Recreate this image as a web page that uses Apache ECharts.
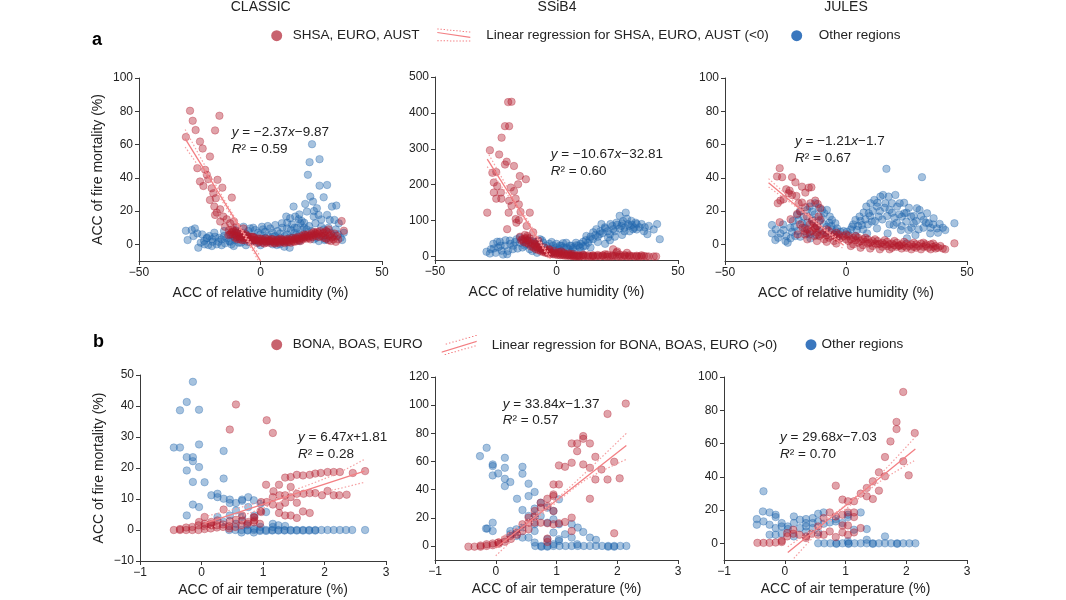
<!DOCTYPE html>
<html>
<head>
<meta charset="utf-8">
<script src="https://cdn.jsdelivr.net/npm/echarts@6/dist/echarts.min.js"></script>
<style>
  html, body { margin: 0; padding: 0; background: #fff; }
  #chart { width: 1066px; height: 600px; }
</style>
</head>
<body>
<div id="chart"></div>
<script>
// panel titles and regression text
const models = ['CLASSIC', 'SSiB4', 'JULES'];
const eqSlope = ['−2.37', '−10.67', '−1.21', '6.47', '33.84', '29.68'];
const eqIntercept = ['−9.87', '−32.81', '−1.7', '+1.81', '−1.37', '−7.03'];
const eqR2 = ['0.59', '0.60', '0.67', '0.28', '0.57', '0.70'];

// tick labels
const yTicksA = [0, 20, 40, 60, 80, 100];
const yTicksA2 = [0, 100, 200, 300, 400, 500];
const yTicksB2 = [0, 20, 40, 60, 80, 100, 120];
const yTicksB3 = [0, 20, 40, 60, 80, 100];

// ---- row a: ACC of relative humidity vs ACC of fire mortality ----
const a1Red = [[-29.0,80.3],[-27.9,74.3],[-26.7,68.7],[-30.7,64.5],[-24.9,61.8],[-23.8,57.6],[-16.9,77.3],[-18.7,68.5],
  [-20.8,52.8],[-26.0,45.8],[-22.8,44.8],[-22.1,41.8],[-21.5,39.2],[-24.9,37.8],[-17.7,38.8],[-15.7,34.1],[-23.5,35.1],
  [-20.1,33.7],[-19.4,30.7],[-20.8,26.7],[-18.4,27.7],[-11.8,28.1],[-19.0,22.7],[-18.0,19.1],[-16.6,21.1],[-18.7,17.7],
  [-15.3,16.7],[-13.9,15.1],[-16.6,13.7],[-12.5,12.7],[-10.9,13.7],[-14.6,10.6],[-9.8,10.6],[-7.0,9.6],[-11.8,7.6],
  [-8.4,6.6],[-5.6,5.0],[-3.6,4.6],[-9.8,4.6],[-2.2,2.6],[-13.2,5.6],
  [-12,7],[-11,6],[-10,5.5],[-9,5],[-8,4.5],[-7,4],[-6,3.5],[-5,3.2],[-4,3],[-3,2.8],[-2,2.5],[-1,2.3],[0,2.2],[1,2],
  [2,2],[3,1.8],[4,1.8],[5,1.8],[6,1.8],[7,1.9],[8,2],[9,2],[10,2.1],[11,2.3],[12,2.5],[13,2.7],[14,3],[15,3.2],[16,3.5],
  [17,3.8],[18,4.1],[19,4.5],[20,5],[21,5.3],[22,5.8],[23,6.2],[24,6.5],[25,5],[26,4],[27,3.5],[28,2.5],[30,3],[31,1.5],
  [33.4,14],[34.3,8.2],[-10,8],[-8,7],[-6,6],[-3,4.5],[0,3.5],[3,3],[6,0.5],[10,0.8],[14,1.5],[18,6],[22,7.5],[26,7],
  [29,6],[32,3],[-11.5,9],[-9.5,3],[-7.5,2.5],[-4.5,1.5],[-1.5,0.8],[1.5,0.5],[4.5,3.2],[8.5,3.4],[12.5,1],[16.5,2],
  [20.5,3],[24.5,8],[27.5,7.5],[29.5,4.2],[31.5,5]];
const a1RedBand = [[-13,8.5],[-12.5,6],[-11,8],[-10.5,4],[-9,7],[-8.5,3],[-7,6],[-6.5,2.5],[-5.5,5],[-4,4.5],[-3.5,1.8],
  [-2.5,4],[-1,3.5],[-0.5,1.5],[0.5,3],[1,1],[2,3.5],[2.5,1],[3.5,2.5],[4,0.8],[5,3],[5.5,1],[6.5,2.8],[7,1],[7.5,3],[8,1],
  [9,2.8],[9.5,1.2],[10.5,3],[11,1.2],[11.5,3.2],[12,1.5],[13,3.8],[13.5,1.8],[14.5,4],[15,2],[15.5,4.5],[16,2.5],[17,5],
  [17.5,3],[18.5,5.5],[19,3.5],[19.5,6],[20,4],[21,6.5],[21.5,4.5],[22.5,7],[23,5],[23.5,7.5],[24,4.5],[25.5,6.5],
  [26.5,5.5],[27,8],[28.5,5],[29,2],[30.5,6.5],[28,9]];
const a1Blue = [[-30.7,8.2],[-30,2.6],[-28.3,8.6],[-27,9.6],[-26,6.6],[-27.6,5],[-24.6,1],[-23.2,2],[-22.1,3.6],[-25.6,-2],
  [-21.5,-0.4],[-19.7,1.6],[-18.7,4.6],[-17.3,1.6],[-16,3],[-14.6,0.6],[-13.9,3.6],[-12.5,1.6],[-11.4,5],[-10.5,2.6],
  [-9.8,7],[-8.4,3.6],[-7,10.6],[-6.3,6.6],[-5.6,1.6],[-4.3,9.6],[-2.9,4.6],[-2.2,8.6],[-0.8,1],[0.6,10.6],[1.9,7.6],
  [2.6,1.6],[4,9.6],[5.1,4.6],[6.1,11.6],[6.7,-0.4],[8.1,6.6],[8.8,12.7],[9.8,-1.4],[10.6,16.7],[10.9,9.6],[12,-2],
  [12.2,15.7],[12.5,8.6],[13.6,22.7],[14.3,16.7],[14.7,5.6],[15.7,15.1],[16.4,12.7],[17.1,8.6],[17.7,4.6],[18.4,24.3],
  [19.1,19.7],[19.5,41.8],[20.2,49.4],[21.2,60.2],[20.5,28.7],[21.6,25.7],[21.9,16.7],[22.6,12.7],[24.3,51.2],[24.3,35.3],
  [23.2,21.7],[23.9,17.7],[26,28.3],[27.4,35.7],[27.4,17.7],[28.5,14.7],[29.4,22.7],[31.2,23.3],[30.4,14.7],[32.2,12.7],
  [26.4,2.6],[25,10.6],[34.3,7],[33.6,2.6],[-20,3],[-15,5],[-10,4],[-5,5],[0,6],[3,5],[7,3],[10,2],[13,4],[16,2],[-22,4],
  [-18,0],[-12,0],[-8,1],[-3,2],[1,3],[5,0],[8,4],[11,6],[14,10],[16,18],[18,10],[19,5],[22,3],[24,2],[26,5]];
const a1BlueBand = [[-24,6],[-23,0],[-21,5],[-20,-1],[-19,7],[-17,4],[-16,-0.5],[-15,8],[-13,2],[-12,6],[-11,-1],[-10,9],
  [-9,1],[-7,5],[-6,-0.5],[-5,8],[-4,2],[-3,10],[-1,7],[0,-0.5],[1,9],[2,4],[3,11],[4,2],[5,7],[6,5],[7,8],[8,0],[9,10],
  [10,5],[11,13],[12,4],[13,12],[14,7],[15,10],[16,6],[17,14],[18,13],[19,9],[20,11],[21,8],[22,20],[23,4],[25,15],[26,9],
  [27,3],[28,10],[29,7],[30,5],[31,9],[32,6],[33,4]];
const a1Fit = [[-31, 63.6], [0, -9.9]];
const a1CiUp = [[-31, 69], [-20, 39.8], [-12, 19.6], [-5, 3.2], [-0.5, -6.2]];
const a1CiLo = [[-31, 58.5], [-20, 35.4], [-12, 17.2], [-5, 0.6], [-0.8, -10]];

const a2Red = [[-19.9,430],[-18.5,431],[-21.2,363],[-19.5,363],[-22.6,331],[-27.4,296],[-23.6,284],[-26.4,233],[-24.8,235],
  [-20.5,264],[-21.2,256],[-17.5,252],[-15.1,224],[-12.6,215],[-15.8,201],[-25.8,206],[-24.4,196],[-25.8,178],[-22.9,178],
  [-24.8,161],[-22.7,161],[-18.8,192],[-17.5,182],[-16.8,161],[-19.5,155],[-18.5,141],[-15.5,145],[-14.8,124],[-11,122],
  [-19.7,122],[-16.8,104],[-28.5,122],[-16.5,94],[-15.5,101],[-20.3,76],[-12.3,85],[-9.6,67],[-12,57],[-7.5,44],[-8.9,34],
  [-6.8,25],[-4.1,16],[23.3,20],[24.7,11],
  [-15,55],[-13,50],[-12,45],[-11,40],[-10,35],[-9,30],[-8,25],[-7,22],[-6,18],[-5,15],[-4,13],[-3,12],[-2,11],[-1,10],
  [0,9],[1,8],[2,7],[3,6],[4,5],[5,4],[6,3],[7,2],[8,2],[9,1],[10,1],[12,1],[14,0],[16,0],[18,0],[20,0],[22,0],[24,1],
  [26,0],[28,1],[30,0],[32,0],[34,0],[37,0],[40,0],[41,0],[29,10],[25,14],[20,6],[15,3],[11,5],[6,7],[2,14],[-3,18],
  [-8,38],[-14,48],[-12,52]];
const a2RedBand = [[-14.5,45],[-13.5,40],[-12.5,38],[-11.5,35],[-10.5,28],[-9.5,25],[-8.5,20],[-7.5,18],[-6.5,15],[-5.5,12],
  [-4.5,10],[-3.5,8],[-2.5,7],[-1.5,6],[-0.5,5],[0.5,4],[1.5,3],[2.5,3],[3.5,2],[4.5,2],[5.5,1],[6.5,1],[7.5,0],[8.5,0],
  [9.5,0],[11,0],[13,0],[15,0],[17,1],[19,1],[21,0],[23,0],[25,0],[27,0],[29,0],[31,1],[33,0],[35,0],[36,1],[38,0],
  [-13,60],[-11,50],[-9,45],[-7,32],[-5,25],[-3,20],[-1,15],[1,12],[3,10],[5,8],[7,6],[9,4],[11,3],[13,3],[15,2],[17,4],
  [19,3],[21,5],[23,3],[26,5],[28,4],[30,3],[33,2],[35,3]];
const a2Blue = [[-28.8,13],[-27.4,8],[-25.8,22],[-24.4,41],[-23.3,41],[-22.6,16],[-21.2,30],[-20.3,6],[-19.2,44],[-17.8,30],
  [-16.4,48],[-15.1,53],[-13.7,44],[-12.6,34],[-11,44],[-9.9,30],[-8.2,41],[-6.8,48],[-5.5,39],[-4.1,30],[-2.7,20],[-1.4,30],
  [0,25],[1.4,30],[2.7,37],[4.1,25],[5.5,30],[6.8,20],[8.2,31],[9.6,25],[11,41],[12.3,57],[13.7,48],[15.1,67],[16.4,76],
  [17.8,62],[18.5,90],[19.9,81],[21.2,53],[22.2,90],[23.3,76],[24.7,94],[26,113],[26.7,85],[27.4,99],[28.5,122],[29.5,90],
  [30.8,99],[31.5,76],[32.6,94],[34.2,81],[36.3,81],[37.4,62],[41.4,90],[42.5,48],[-18,20],[-14,25],[-10,15],[-6,20],
  [-2,10],[2,15],[6,12],[10,15],[14,25],[17,40],[20,35],[24,55],[27,60],[30,70],[33,75],[-24,25],[-22,5],[-8,10],[12,30],
  [22,45],[28,80]];
const a2BlueBand = [[-27,20],[-26,35],[-25,10],[-23,30],[-21,45],[-20,15],[-19,35],[-17,40],[-16,22],[-15,38],[-13,30],
  [-12,45],[-11,20],[-9,40],[-7,35],[-6,45],[-5,25],[-3,35],[-2,40],[-1,20],[0,35],[1,20],[2,30],[3,25],[4,38],[5,20],
  [6,30],[7,25],[8,38],[9,30],[10,35],[11,28],[12,45],[13,38],[14,55],[15,48],[16,60],[17,55],[18,70],[19,65],[20,78],
  [21,70],[22,62],[23,85],[24,70],[25,88],[26,78],[27,92],[28,70],[29,105],[30,85],[31,88],[32,80],[33,90],[35,90],
  [36,70],[38,85],[40,75]];
const a2Fit = [[-28.5, 271.3], [-2.5, -6.1]];
const a2CiUp = [[-28.5, 292], [-20, 190], [-12, 102], [-6, 37], [-2.5, 4]];
const a2CiLo = [[-28.5, 250], [-20, 170], [-12, 90], [-6, 27], [-3, -10]];

const a3Red = [[-27.4,45.8],[-28.5,40.8],[-26.4,40.4],[-22.3,40.4],[-20.9,37.3],[-24.7,33.1],[-23.3,32.3],[-23.7,30.7],
  [-22.3,29.7],[-20.5,29.1],[-27.1,26.3],[-28.2,24.7],[-25.8,27.1],[-18.2,34.7],[-15.4,34.1],[-14.3,34.3],[-16.8,31.1],
  [-19.6,24.7],[-18.2,25.1],[-16.8,22.3],[-14.7,24.7],[-12.7,26.3],[-11.7,24.3],[-10.6,21.7],[-27.4,13.3],[-22.9,15.1],
  [-20.2,18.3],[-18.9,19.7],[-16.1,16.7],[-13.4,12.7],[-10.6,14.7],[-11.3,16.7],[-12.7,9.6],
  [-18,10],[-16,9],[-14,8],[-12,7],[-10,6],[-8,5.5],[-6,5],[-4,4.5],[-2,4],[0,3],[2,3],[4,2.5],[6,2],[8,1.5],[10,1],
  [12,0.5],[14,0.3],[16,0],[18,0],[20,-0.5],[22,-0.5],[24,-1],[26,-1],[28,-1.5],[30,-1],[32,-1.5],[34,-2],[36,-1.5],
  [38,-2],[40,-2.5],[44.8,0.6],[-15,12],[-11,9],[-7,8],[-3,6],[1,5],[5,4],[9,3],[13,2],[17,1.5],[21,1],[25,0.5],[29,0],
  [33,0],[37,-1],[3,0],[7,-0.5],[11,-1],[15,-1.5],[19,-2],[23,-2.5],[27,-3],[31,-3],[35,-3],[-5,2],[-9,3],[-13,5],[-17,6]];
const a3RedBand = [[-19,12],[-17,8],[-15,7.5],[-13,10],[-11,5],[-9,7],[-7,4],[-5,6],[-3,3],[-1,5],[1,2],[3,4],[5,1],[7,3],
  [9,0.5],[11,2],[13,0],[15,1],[17,-1],[19,0.5],[21,-1.5],[23,0],[25,-2],[27,0],[29,-2],[31,0.5],[33,-1],[35,0],[37,-2.5],
  [39,-1],[41,-3],[-14,14],[-12,11],[-8,9],[-4,7],[0,6],[4,5],[8,4],[12,3],[16,2.5],[20,2],[24,1.5],[28,1],[32,1],[36,0.5],
  [-20,6],[-16,3],[-12,2],[-8,1.5],[-4,0.5],[2,-1],[6,-2],[10,-2.5],[14,-3],[18,-3],[22,-1]];
const a3Blue = [[-30.6,6.6],[-30.6,11.6],[-29.2,2.6],[-27.1,6.6],[-25.8,8.6],[-24.7,5],[-24.1,1],[-22.9,3.6],[-22.3,7.6],
  [-21.3,10.6],[-20.2,17.7],[-19.6,14.7],[-18.2,12.7],[-17.5,16.7],[-16.1,20.7],[-15,22.7],[-14,19.7],[-12.7,24.7],
  [-11.3,22.1],[-9.9,20.7],[-9,18.7],[-7.9,20.7],[-6.7,16.7],[-5.8,14.7],[-4.4,12.7],[-3.7,9.6],[-18.9,4.6],[-16.1,6.6],
  [-14.7,3.6],[-12,5.6],[-9.9,8.2],[-7.9,10.6],[-5.8,8.6],[-2.3,7.6],[0.4,7.6],[2.5,10.6],[3.9,14.7],[4.5,8.6],[5.6,16.7],
  [6.6,11.6],[7.3,19.1],[8.4,22.7],[9.4,18.7],[10.1,24.7],[10.7,13.7],[11.7,26.7],[12.8,22.7],[13.5,16.7],[14.2,28.7],
  [15.3,29.7],[16.7,45.4],[16.3,24.7],[17.6,28.7],[18,20.7],[19,24.7],[19.7,11.6],[20.4,29.7],[21.1,22.7],[22.2,24.7],
  [23.1,16.7],[24.1,18.7],[24.9,13.7],[25.9,8.6],[26.9,16.7],[28,12.7],[29.3,21.7],[30.4,20.7],[31.4,40.4],[32.1,14.7],
  [33.5,18.7],[34.2,12.7],[34.8,6.6],[36.2,15.7],[37.6,9.6],[38.7,12.3],[41,8.6],[44.8,12.7],[17.2,6.6],[22.7,8.6],
  [12.8,9.6],[8.7,6.6],[28.7,5.6],[25.2,3.6]];
const a3BlueBand = [[-29,9],[-28,4],[-26,12],[-25,2],[-23,10],[-22,14],[-21,5],[-20,8],[-19,20],[-17,10],[-16,13],[-15,6],
  [-14,15],[-13,18],[-12,11],[-11,14],[-10,16],[-9,12],[-8,7],[-7,13],[-6,11],[-5,6],[-4,8],[-3,5],[-1,8],[1,6],[2,9],
  [3,12],[4,5],[5,11],[6,14],[7,9],[8,15],[9,12],[10,17],[11,20],[12,14],[13,25],[14,20],[15,15],[16,22],[17,17],[18,12],
  [19,19],[20,16],[21,13],[22,18],[23,11],[24,25],[25,19],[26,22],[27,10],[28,17],[29,14],[30,9],[31,17],[32,10],[33,13],
  [35,10],[36,12],[38,7],[40,10]];
const a3Fit = [[-32, 37.0], [-1, -0.5]];
const a3CiUp = [[-32, 39.5], [-20, 24], [-12, 13.8], [-5, 5.5], [-1, 1.5]];
const a3CiLo = [[-32, 34.5], [-20, 21.8], [-12, 12.4], [-5, 3.3], [-1, -3]];

// ---- row b: ACC of air temperature vs ACC of fire mortality ----
const b1Red = [[0.56,40.5],[0.46,32.4],[1.06,35.4],[1.16,31.3],[2.66,19],[2.46,18.4],[2.25,18.7],[2.15,18.7],[2.05,18.7],
  [1.94,18.4],[1.85,18.2],[1.76,17.8],[1.65,17.6],[1.55,17.8],[1.45,17.1],[1.36,16.9],[1.26,14.6],[1.05,14.6],[1.17,12.5],
  [1.45,13.9],[1.27,11.2],[1.36,11.2],[1.55,11.7],[1.66,11.7],[1.76,11.9],[1.85,11.9],[1.96,11.2],[2.05,12.6],[2.15,11.2],
  [2.24,11.2],[2.36,11.4],[1.16,10.6],[1.06,9],[1.16,8.2],[1.27,7.7],[0.97,9],[1.36,8.8],[1.55,8.8],[1.45,10.6],[1.26,5.5],
  [1.36,4.7],[1.45,4.7],[1.55,3.9],[1.65,6],[1.76,5.5],[0.97,5.8],[0.86,4],[0.86,3.1],[0.76,2.6],[0.66,4.7],[0.66,3.1],
  [0.56,3.3],[0.46,2.9],[0.36,6.6],[0.26,3.1],[0.16,2.6],[0.05,4.2],[-0.04,2.6],[0.05,2],[0.16,1.5],[0.96,6.1],[0.85,4.2],
  [-0.45,0],[-0.35,0],[-0.25,0],[-0.15,0],[-0.05,0],[0.05,0.3],[0.15,0.5],[0.25,0.8],[0.35,1],[0.45,1.2],[-0.25,0.8],
  [-0.15,1],[-0.05,1.5],[0.05,1.2],[0.15,1.8],[0.25,1.5],[0.35,1.8],[0.45,0.5],[0.55,1],[0.65,1.5],[0.75,2],[0.85,2.5],
  [-0.35,0.3],[0.95,2]];
const b1Blue = [[-0.14,47.8],[-0.24,41.3],[-0.35,38.6],[-0.04,38.8],[-0.45,26.6],[-0.35,26.6],[-0.04,27.6],[-0.24,23.5],
  [-0.14,23.5],[-0.14,22.2],[-0.24,19.2],[-0.04,20.3],[0.36,25.5],[-0.14,15.5],[0.05,15.4],[0.36,16.6],[-0.14,8.2],
  [-0.04,7.4],[-0.24,4.7],[0.16,11.2],[0.26,11.7],[0.26,10.6],[0.36,10.1],[0.46,9.8],[0.46,8.7],[0.56,8.7],[0.66,9.8],
  [0.66,9.4],[0.76,10.6],[0.85,9.6],[0.96,8.5],[0.76,7.4],[0.56,6.3],[0.46,4.7],[0.66,4.2],[0.86,4.7],[1.05,5.8],[1.16,2],
  [1.25,1.5],[1.36,1.3],[1.16,1],[0.26,4.2],[0.36,2.6],[0.56,2],[0.74,1.5],[0.96,1],[0.86,0.4],
  [0.45,0],[0.55,0],[0.65,0],[0.75,0],[0.85,0],[0.95,0],[1.05,0],[1.15,0],[1.25,0],[1.35,0],[1.45,0],[1.55,0],[1.65,0],
  [1.75,0],[1.85,0],[1.95,0],[2.05,0],[2.15,0],[2.25,0],[2.35,0],[2.45,0],[2.66,0],[0.65,-0.8],[0.85,-0.8],[0.95,-0.3],
  [1.05,-0.3],[0.75,-0.2],[1.15,-0.2],[1.25,-0.2],[1.35,-0.2],[1.45,-0.2],[1.55,-0.2],[1.65,-0.2],[1.75,-0.2],[1.85,-0.2]];
const b1Fit = [[0.05, 2.13], [2.65, 18.96]];
const b1CiUp = [[0.05, 4.3], [0.8, 8.2], [1.5, 12.8], [2.2, 18.2], [2.65, 22.8]];
const b1CiLo = [[0.05, -0.1], [0.8, 5.6], [1.5, 10.4], [2.2, 13.2], [2.65, 15.4]];

const b2Red = [[2.14,101.1],[1.84,93.8],[1.44,76.1],[1.25,72.8],[1.34,72.8],[1.55,72.8],[1.34,67.3],[1.64,63.3],[1.95,59.8],
  [1.25,59.1],[1.14,56.2],[1.04,57.2],[1.44,57.9],[1.55,55.5],[1.74,54.3],[1.64,47.2],[1.84,47.2],[2.04,48],[0.95,43.7],
  [1.04,43.7],[1.55,33.5],[0.95,36.6],[0.95,35.4],[0.85,33.5],[0.74,30.7],[0.85,28.3],[0.74,27.2],[0.64,24.8],[0.95,24.8],
  [0.64,20.8],[0.54,20.1],[0.64,16.5],[0.74,16.5],[0.85,16.1],[0.95,15.4],[1.04,16.1],[1.14,17],[1.25,20.1],[1.25,10.6],
  [0.44,15.4],[0.54,16.5],[0.44,10.6],[0.34,9.5],[0.24,7.1],[0.15,4.7],[0.04,2.4],[0.85,2.8],[1.95,9],[1.44,78],
  [0.54,11.8],[0.85,5.2],[-0.45,-0.5],[-0.35,-0.5],[-0.25,-0.5],[-0.15,0],[-0.05,0.5],[0.05,1.5],[-0.25,0.3],[-0.15,1.2],
  [-0.05,1.8],[0.05,2.5],[0.15,3],[0.25,5],[0.35,8]];
const b2Blue = [[-0.26,63.8],[-0.15,69.7],[-0.05,57.9],[-0.05,56.7],[-0.05,50.1],[0.04,51.5],[0.15,62.6],[0.15,55.5],
  [0.15,47.7],[0.15,42.5],[0.24,45.4],[0.44,56.2],[0.44,51.3],[0.35,33.5],[0.54,44.2],[0.54,35.4],[0.64,38.3],[0.44,25.5],
  [-0.05,16.5],[-0.05,10.6],[-0.16,12.3],[-0.14,12.3],[0.24,10.6],[0.34,11.8],[0.44,13],[0.44,5.9],[0.54,5.9],[0.54,21.3],
  [0.64,26.5],[0.64,21.3],[0.64,15.4],[0.74,30.7],[0.74,21.3],[0.85,27.2],[0.85,16.5],[0.95,24.8],[0.95,18.9],[0.95,9.5],
  [1.04,33.1],[1.04,15.4],[1.04,3.5],[1.14,8.3],[1.25,15.4],[1.25,5.9],[1.35,13],[1.44,9.9],[1.55,5.9],[1.65,4.3],
  [0.64,2.4],[0.64,10.6],[0.85,4.7],[1.04,4.7],[0.95,1.2],[0.34,7.1],[0.24,8.3],[1.34,1.2],
  [0.65,0],[0.75,0],[0.85,0],[0.95,0],[1.05,0],[1.15,0],[1.25,0],[1.35,0],[1.45,0],[1.55,0],[1.65,0],[1.75,0],[1.85,0],
  [1.95,0],[2.05,0],[2.15,0],[0.75,-0.5],[0.85,-0.5],[1.85,-0.5],[1.95,-0.5]];
const b2Fit = [[0.0, -1.4], [2.15, 71.4]];
const b2CiUp = [[0.0, 3.5], [0.5, 17.5], [1.0, 33.5], [1.5, 53], [2.15, 80]];
const b2CiLo = [[0.0, -7], [0.5, 13], [1.0, 31], [1.5, 47.5], [2.15, 61.5]];

const b3Red = [[1.95,91],[1.84,73],[1.84,68.7],[2.14,66.3],[1.74,61.3],[1.65,51.9],[1.65,40.3],[1.95,49.3],[2.04,40.9],
  [1.55,42.7],[1.45,37.3],[1.35,33.3],[1.35,28.3],[1.25,29.9],[1.45,26.7],[1.55,31.7],[0.84,34.7],[0.95,26.3],[1.04,25.3],
  [1.14,25.3],[0.74,18.6],[0.84,16.2],[0.95,17.2],[1.04,18.6],[1.14,18.6],[1.14,15.8],[0.95,10.8],[1.04,10.8],[0.74,7.2],
  [0.95,6.6],[1.04,5.2],[1.14,6.6],[1.25,9.2],[0.84,3.8],[0.64,15.2],[0.64,5.2],[0.55,5.2],[0.55,10.2],[0.44,5.8],
  [0.35,4.2],[0.24,5.2],[0.14,5.8],[0.14,8.2],[0.04,6.2],[0.04,4.2],[0.35,3.2],[-0.45,0.3],[-0.35,0.3],[-0.25,0.3],
  [-0.15,0.5],[-0.05,0.8],[-0.05,1.5]];
const b3Blue = [[-0.35,31.3],[-0.46,14.6],[-0.46,11.2],[-0.36,19.2],[-0.35,13.2],[-0.25,18.6],[-0.25,11.2],[-0.25,5.2],
  [-0.15,17.2],[-0.15,15.8],[-0.15,9.2],[-0.15,5.2],[-0.05,12.2],[-0.05,10.2],[-0.05,5.8],[0.05,10.2],[0.05,8.6],[0.15,16.2],
  [0.15,12.2],[0.15,4.2],[0.25,14.2],[0.25,9.2],[0.35,14.6],[0.35,12.2],[0.35,10.2],[0.35,7.2],[0.46,15.2],[0.46,12.2],
  [0.46,9.2],[0.55,17.8],[0.55,13.2],[0.55,6.6],[0.64,18.6],[0.64,11.8],[0.74,12.6],[0.84,14.6],[0.84,13.2],[0.95,12.2],
  [1.04,17.2],[1.04,15.8],[1.14,8.2],[1.25,18.6],[1.35,8.6],[1.35,2.2],[1.65,4.2],[1.04,1.2],
  [0.55,0],[0.65,0],[0.75,0],[0.85,0],[0.95,0],[1.05,0],[1.15,0],[1.25,0],[1.35,0],[1.45,0],[1.55,0],[1.65,0],[1.75,0],
  [1.85,0],[1.95,0],[2.05,0],[2.15,0],[0.85,-0.3],[1.05,-0.3],[1.45,-0.3],[1.85,-0.3]];
const b3Fit = [[0.05, -5.55], [2.15, 56.78]];
const b3CiUp = [[0.05, -2], [0.6, 12], [1.1, 26], [1.6, 42.5], [2.15, 64]];
const b3CiLo = [[0.15, -9], [0.6, 8.5], [1.1, 23.5], [1.6, 38], [2.15, 50]];

const FF = "'Liberation Sans', Arial, sans-serif";
const TXT = '#222';
const AX = '#3a3a3a';
const RED = 'rgba(178,24,43,0.5)';
const BLUE = 'rgba(33,102,172,0.5)';
const FIT = '#f37f83';
const CI = '#f5a1a3';
const nameA = ['SHSA, EURO, AUST', 'Linear regression for SHSA, EURO, AUST (<0)'];
const nameB = ['BONA, BOAS, EURO', 'Linear regression for BONA, BOAS, EURO (>0)'];

const minus = v => String(v).replace('-', '\u2212');

const grids = [
  { left: 139, top: 78, width: 243, height: 183 },
  { left: 435, top: 77, width: 243, height: 183 },
  { left: 725, top: 78, width: 242, height: 183 },
  { left: 140, top: 375, width: 246, height: 186 },
  { left: 435, top: 377, width: 243, height: 183 },
  { left: 724, top: 377, width: 243, height: 183 }
];

function xAxis(i, min, max, interval, name, gap) {
  return {
    type: 'value', gridIndex: i, min: min, max: max, interval: interval,
    name: name, nameLocation: 'middle', nameGap: gap,
    nameTextStyle: { fontSize: 14, color: TXT, fontFamily: FF },
    axisLine: { onZero: false, lineStyle: { color: AX, width: 1 } },
    axisTick: { length: 4, lineStyle: { color: AX } },
    axisLabel: { fontSize: 12, color: TXT, fontFamily: FF, margin: 6, formatter: minus },
    splitLine: { show: false }
  };
}

function yAxis(i, min, max, ticks, showName) {
  const ax = {
    type: 'value', gridIndex: i, min: min, max: max,
    name: showName ? 'ACC of fire mortality (%)' : '',
    nameLocation: 'middle', nameGap: 34,
    nameTextStyle: { fontSize: 14, color: TXT, fontFamily: FF },
    axisLine: { show: true, onZero: false, lineStyle: { color: AX, width: 1 } },
    axisTick: { show: true, length: 4, lineStyle: { color: AX } },
    axisLabel: { fontSize: 12, color: TXT, fontFamily: FF, margin: 6, formatter: minus },
    splitLine: { show: false }
  };
  if (ticks) {
    ax.axisTick.customValues = ticks;
    ax.axisLabel.customValues = ticks;
  } else {
    ax.interval = 10;
  }
  return ax;
}

const xAxes = [
  xAxis(0, -50, 50, 50, 'ACC of relative humidity (%)', 25),
  xAxis(1, -50, 50, 50, 'ACC of relative humidity (%)', 25),
  xAxis(2, -50, 50, 50, 'ACC of relative humidity (%)', 25),
  xAxis(3, -1, 3, 1, 'ACC of air temperature (%)', 22),
  xAxis(4, -1, 3, 1, 'ACC of air temperature (%)', 22),
  xAxis(5, -1, 3, 1, 'ACC of air temperature (%)', 22)
];
const yAxes = [
  yAxis(0, -10, 100, yTicksA, true),
  yAxis(1, -10, 500, yTicksA2, false),
  yAxis(2, -10, 100, yTicksA, false),
  yAxis(3, -10, 50, null, true),
  yAxis(4, -10, 120, yTicksB2, false),
  yAxis(5, -10, 100, yTicksB3, false)
];

const panels = [
  [a1Red.concat(a1RedBand), a1Blue.concat(a1BlueBand), a1Fit, a1CiUp, a1CiLo],
  [a2Red.concat(a2RedBand), a2Blue.concat(a2BlueBand), a2Fit, a2CiUp, a2CiLo],
  [a3Red.concat(a3RedBand), a3Blue.concat(a3BlueBand), a3Fit, a3CiUp, a3CiLo],
  [b1Red, b1Blue, b1Fit, b1CiUp, b1CiLo],
  [b2Red, b2Blue, b2Fit, b2CiUp, b2CiLo],
  [b3Red, b3Blue, b3Fit, b3CiUp, b3CiLo]
];

const series = [];
panels.forEach(function (p, i) {
  const names = i < 3 ? nameA : nameB;
  const ax = { xAxisIndex: i, yAxisIndex: i };
  series.push(Object.assign({
    name: 'Other regions', type: 'scatter', data: p[1], symbolSize: 7.5,
    itemStyle: { color: BLUE, borderColor: BLUE, borderWidth: 0.8 }
  }, ax));
  series.push(Object.assign({
    name: names[0], type: 'scatter', data: p[0], symbolSize: 7.5,
    itemStyle: { color: RED, borderColor: RED, borderWidth: 0.8 }
  }, ax));
  series.push(Object.assign({
    name: names[1], type: 'line', data: p[2], symbol: 'none', silent: true,
    lineStyle: { color: FIT, width: 1.3 }, itemStyle: { color: FIT }, z: 5
  }, ax));
  [p[3], p[4]].forEach(function (ci) {
    series.push(Object.assign({
      name: 'ci', type: 'line', data: ci, symbol: 'none', smooth: 0.3, silent: true,
      lineStyle: { color: CI, width: 1.2, type: [1.5, 2] }, z: 5
    }, ax));
  });
});

// legend icon for the regression entry: solid fit line between two dotted bands
function dots(x0, y0, x1, y1, n) {
  let s = '';
  for (let k = 0; k < n; k++) {
    const t = k / (n - 1);
    const x = x0 + (x1 - x0) * t, y = y0 + (y1 - y0) * t;
    s += 'M' + x.toFixed(2) + ',' + y.toFixed(2) + 'h1.4v1h-1.4Z';
  }
  return s;
}
const iconA = 'path://' + dots(0, 0, 31.6, 3, 11) + 'M0,3.4L33,8.2L33,9.4L0,4.6Z' + dots(0, 11.8, 31.6, 12, 11);
const iconB = 'path://' + dots(4, 8.5, 33.6, 0, 10) + 'M0,16.5L35,5.8L35,7L0,17.7Z' + dots(3, 19, 32.6, 10.5, 10);

function legend(name, left, top, icon, w, h, color, pad) {
  return {
    data: [name], left: left, top: top, padding: 0, icon: icon,
    itemWidth: w, itemHeight: h, selectedMode: true,
    itemStyle: { color: color, borderWidth: 0, opacity: 1 },
    textStyle: { fontSize: 13.5, color: TXT, fontFamily: FF, padding: [0, 0, 0, pad] }
  };
}

const legends = [
  legend(nameA[0], 271.2, 28.7, 'circle', 22, 11, '#c8626e', 0),
  legend(nameA[1], 437.3, 28, iconA, 33, 13, FIT, 11),
  legend('Other regions', 791.2, 28.7, 'circle', 22, 11, '#3a77be', 6),
  legend(nameB[0], 271.2, 337.7, 'circle', 22, 11, '#c8626e', 0),
  legend(nameB[1], 441.7, 335, iconB, 35, 20, FIT, 10),
  legend('Other regions', 805.5, 337.7, 'circle', 11, 11, '#3a77be', 0)
];

const eqPos = [[231.7, 132.7], [550.7, 154.3], [795, 141.7], [298, 437.3], [502.7, 404], [780, 437.3]];
const graphics = [];
models.forEach(function (m, k) {
  graphics.push({
    type: 'text', x: [260.7, 557, 846][k], y: 7,
    style: { text: m, fill: TXT, font: '14px ' + FF, align: 'center', verticalAlign: 'middle' }
  });
});
graphics.push({ type: 'text', x: 92, y: 40, style: { text: 'a', fill: '#000', font: 'bold 18px ' + FF, verticalAlign: 'middle' } });
graphics.push({ type: 'text', x: 93, y: 341.7, style: { text: 'b', fill: '#000', font: 'bold 18px ' + FF, verticalAlign: 'middle' } });
eqPos.forEach(function (p, k) {
  graphics.push({
    type: 'text', x: p[0], y: p[1] - 8.3,
    style: {
      text: '{i|y} = ' + eqSlope[k] + '{i|x}' + eqIntercept[k] + '\n{i|R}² = ' + eqR2[k],
      fill: TXT, font: '13.5px ' + FF, lineHeight: 16.6, verticalAlign: 'top',
      rich: { i: { fontStyle: 'italic', fontSize: 13.5, fontFamily: FF, fill: TXT, lineHeight: 16.6 } }
    }
  });
});

const chart = echarts.init(document.getElementById('chart'), null, { renderer: 'canvas' });
chart.setOption({
  backgroundColor: '#fff',
  animation: false,
  grid: grids,
  xAxis: xAxes,
  yAxis: yAxes,
  legend: legends,
  series: series,
  graphic: graphics
});
</script>
</body>
</html>
